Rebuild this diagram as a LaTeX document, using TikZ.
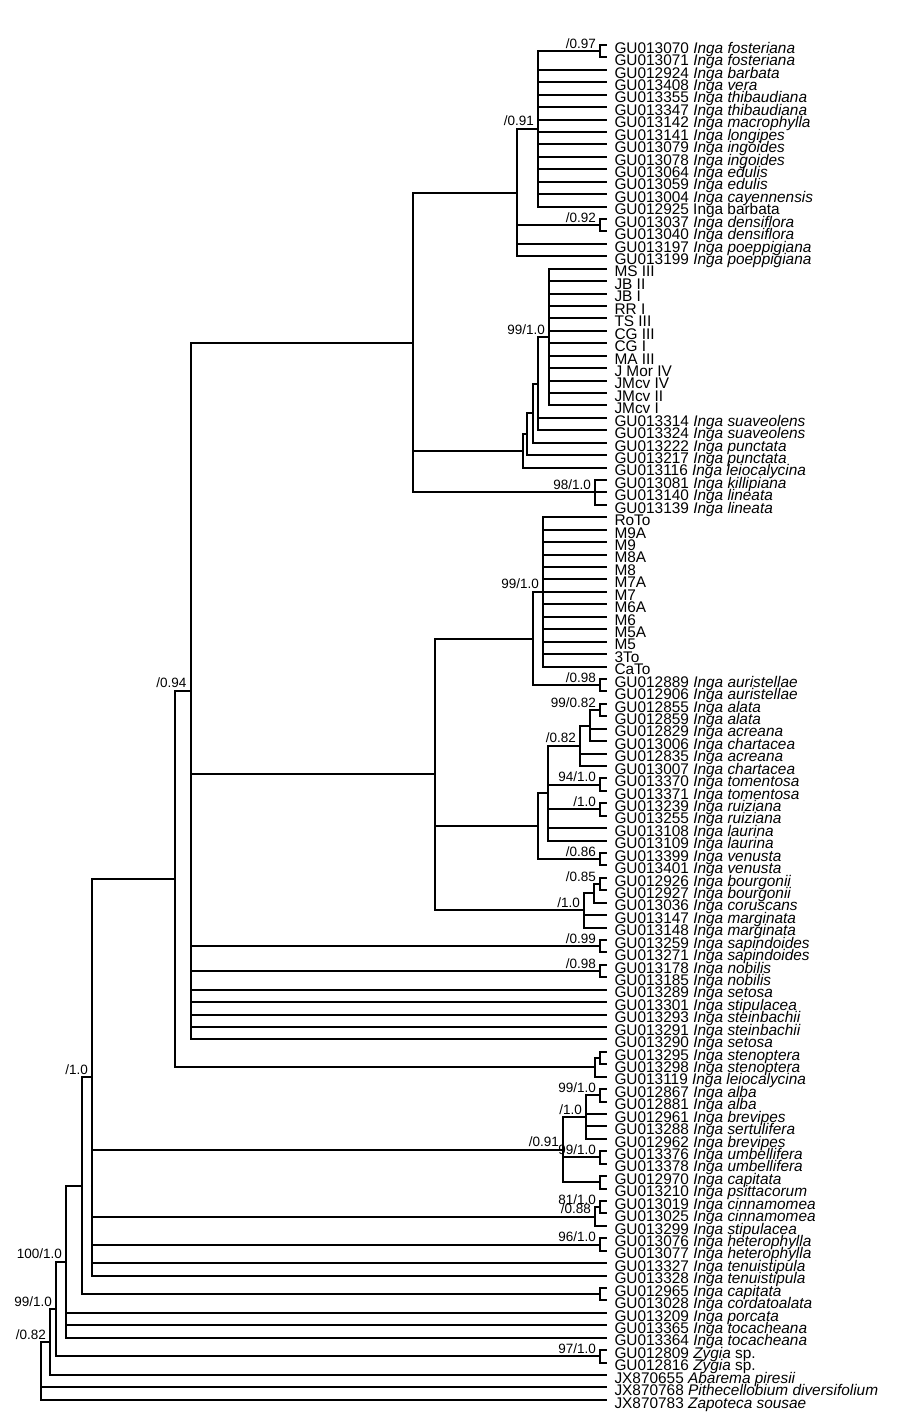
\documentclass[tikz,border=0pt]{standalone}
\usepackage{fontspec}
\setmainfont{Liberation Sans}
\usepackage{tikz}

\newcommand{\taxfont}{\fontsize{15.4}{16}\selectfont}
\newcommand{\suppfont}{\fontsize{13.5}{14}\selectfont}
\newcommand{\inga}[1]{\textit{Inga #1}}

\begin{document}
\begin{tikzpicture}[x=1pt, y=-12.43pt, line width=2pt,
    taxon/.style={anchor=west, inner xsep=7.5pt, inner ysep=0pt, outer sep=0pt,
      text height=16.5pt, text depth=0pt, font=\taxfont},
    supp/.style={anchor=base east, inner sep=0pt, outer sep=0pt,
      xshift=-4pt, yshift=3pt, font=\suppfont}]
  \useasboundingbox (0,-2.62) rectangle (909,111.54);
  % Taxa
  \node[taxon] (l1) at (607,1) {GU013070 \inga{fosteriana}};
  \node[taxon] (l2) at (607,2) {GU013071 \inga{fosteriana}};
  \node[taxon] (l3) at (607,3) {GU012924 \inga{barbata}};
  \node[taxon] (l4) at (607,4) {GU013408 \inga{vera}};
  \node[taxon] (l5) at (607,5) {GU013355 \inga{thibaudiana}};
  \node[taxon] (l6) at (607,6) {GU013347 \inga{thibaudiana}};
  \node[taxon] (l7) at (607,7) {GU013142 \inga{macrophylla}};
  \node[taxon] (l8) at (607,8) {GU013141 \inga{longipes}};
  \node[taxon] (l9) at (607,9) {GU013079 \inga{ingoides}};
  \node[taxon] (l10) at (607,10) {GU013078 \inga{ingoides}};
  \node[taxon] (l11) at (607,11) {GU013064 \inga{edulis}};
  \node[taxon] (l12) at (607,12) {GU013059 \inga{edulis}};
  \node[taxon] (l13) at (607,13) {GU013004 \inga{cayennensis}};
  \node[taxon] (l14) at (607,14) {GU012925 Inga barbata};
  \node[taxon] (l15) at (607,15) {GU013037 \inga{densiflora}};
  \node[taxon] (l16) at (607,16) {GU013040 \inga{densiflora}};
  \node[taxon] (l17) at (607,17) {GU013197 \inga{poeppigiana}};
  \node[taxon] (l18) at (607,18) {GU013199 \inga{poeppigiana}};
  \node[taxon] (l19) at (607,19) {MS III};
  \node[taxon] (l20) at (607,20) {JB II};
  \node[taxon] (l21) at (607,21) {JB I};
  \node[taxon] (l22) at (607,22) {RR I};
  \node[taxon] (l23) at (607,23) {TS III};
  \node[taxon] (l24) at (607,24) {CG III};
  \node[taxon] (l25) at (607,25) {CG I};
  \node[taxon] (l26) at (607,26) {MA III};
  \node[taxon] (l27) at (607,27) {J Mor IV};
  \node[taxon] (l28) at (607,28) {JMcv IV};
  \node[taxon] (l29) at (607,29) {JMcv II};
  \node[taxon] (l30) at (607,30) {JMcv I};
  \node[taxon] (l31) at (607,31) {GU013314 \inga{suaveolens}};
  \node[taxon] (l32) at (607,32) {GU013324 \inga{suaveolens}};
  \node[taxon] (l33) at (607,33) {GU013222 \inga{punctata}};
  \node[taxon] (l34) at (607,34) {GU013217 \inga{punctata}};
  \node[taxon] (l35) at (607,35) {GU013116 \inga{leiocalycina}};
  \node[taxon] (l36) at (607,36) {GU013081 \inga{killipiana}};
  \node[taxon] (l37) at (607,37) {GU013140 \inga{lineata}};
  \node[taxon] (l38) at (607,38) {GU013139 \inga{lineata}};
  \node[taxon] (l39) at (607,39) {RoTo};
  \node[taxon] (l40) at (607,40) {M9A};
  \node[taxon] (l41) at (607,41) {M9};
  \node[taxon] (l42) at (607,42) {M8A};
  \node[taxon] (l43) at (607,43) {M8};
  \node[taxon] (l44) at (607,44) {M7A};
  \node[taxon] (l45) at (607,45) {M7};
  \node[taxon] (l46) at (607,46) {M6A};
  \node[taxon] (l47) at (607,47) {M6};
  \node[taxon] (l48) at (607,48) {M5A};
  \node[taxon] (l49) at (607,49) {M5};
  \node[taxon] (l50) at (607,50) {3To};
  \node[taxon] (l51) at (607,51) {CaTo};
  \node[taxon] (l52) at (607,52) {GU012889 \inga{auristellae}};
  \node[taxon] (l53) at (607,53) {GU012906 \inga{auristellae}};
  \node[taxon] (l54) at (607,54) {GU012855 \inga{alata}};
  \node[taxon] (l55) at (607,55) {GU012859 \inga{alata}};
  \node[taxon] (l56) at (607,56) {GU012829 \inga{acreana}};
  \node[taxon] (l57) at (607,57) {GU013006 \inga{chartacea}};
  \node[taxon] (l58) at (607,58) {GU012835 \inga{acreana}};
  \node[taxon] (l59) at (607,59) {GU013007 \inga{chartacea}};
  \node[taxon] (l60) at (607,60) {GU013370 \inga{tomentosa}};
  \node[taxon] (l61) at (607,61) {GU013371 \inga{tomentosa}};
  \node[taxon] (l62) at (607,62) {GU013239 \inga{ruiziana}};
  \node[taxon] (l63) at (607,63) {GU013255 \inga{ruiziana}};
  \node[taxon] (l64) at (607,64) {GU013108 \inga{laurina}};
  \node[taxon] (l65) at (607,65) {GU013109 \inga{laurina}};
  \node[taxon] (l66) at (607,66) {GU013399 \inga{venusta}};
  \node[taxon] (l67) at (607,67) {GU013401 \inga{venusta}};
  \node[taxon] (l68) at (607,68) {GU012926 \inga{bourgonii}};
  \node[taxon] (l69) at (607,69) {GU012927 \inga{bourgonii}};
  \node[taxon] (l70) at (607,70) {GU013036 \inga{coruscans}};
  \node[taxon] (l71) at (607,71) {GU013147 \inga{marginata}};
  \node[taxon] (l72) at (607,72) {GU013148 \inga{marginata}};
  \node[taxon] (l73) at (607,73) {GU013259 \inga{sapindoides}};
  \node[taxon] (l74) at (607,74) {GU013271 \inga{sapindoides}};
  \node[taxon] (l75) at (607,75) {GU013178 \inga{nobilis}};
  \node[taxon] (l76) at (607,76) {GU013185 \inga{nobilis}};
  \node[taxon] (l77) at (607,77) {GU013289 \inga{setosa}};
  \node[taxon] (l78) at (607,78) {GU013301 \inga{stipulacea}};
  \node[taxon] (l79) at (607,79) {GU013293 \inga{steinbachii}};
  \node[taxon] (l80) at (607,80) {GU013291 \inga{steinbachii}};
  \node[taxon] (l81) at (607,81) {GU013290 \inga{setosa}};
  \node[taxon] (l82) at (607,82) {GU013295 \inga{stenoptera}};
  \node[taxon] (l83) at (607,83) {GU013298 \inga{stenoptera}};
  \node[taxon] (l84) at (607,84) {GU013119 \inga{leiocalycina}};
  \node[taxon] (l85) at (607,85) {GU012867 \inga{alba}};
  \node[taxon] (l86) at (607,86) {GU012881 \inga{alba}};
  \node[taxon] (l87) at (607,87) {GU012961 \inga{brevipes}};
  \node[taxon] (l88) at (607,88) {GU013288 \inga{sertulifera}};
  \node[taxon] (l89) at (607,89) {GU012962 \inga{brevipes}};
  \node[taxon] (l90) at (607,90) {GU013376 \inga{umbellifera}};
  \node[taxon] (l91) at (607,91) {GU013378 \inga{umbellifera}};
  \node[taxon] (l92) at (607,92) {GU012970 \inga{capitata}};
  \node[taxon] (l93) at (607,93) {GU013210 \inga{psittacorum}};
  \node[taxon] (l94) at (607,94) {GU013019 \inga{cinnamomea}};
  \node[taxon] (l95) at (607,95) {GU013025 \inga{cinnamomea}};
  \node[taxon] (l96) at (607,96) {GU013299 \inga{stipulacea}};
  \node[taxon] (l97) at (607,97) {GU013076 \inga{heterophylla}};
  \node[taxon] (l98) at (607,98) {GU013077 \inga{heterophylla}};
  \node[taxon] (l99) at (607,99) {GU013327 \inga{tenuistipula}};
  \node[taxon] (l100) at (607,100) {GU013328 \inga{tenuistipula}};
  \node[taxon] (l101) at (607,101) {GU012965 \inga{capitata}};
  \node[taxon] (l102) at (607,102) {GU013028 \inga{cordatoalata}};
  \node[taxon] (l103) at (607,103) {GU013209 \inga{porcata}};
  \node[taxon] (l104) at (607,104) {GU013365 \inga{tocacheana}};
  \node[taxon] (l105) at (607,105) {GU013364 \inga{tocacheana}};
  \node[taxon] (l106) at (607,106) {GU012809 \textit{Zygia} sp.};
  \node[taxon] (l107) at (607,107) {GU012816 \textit{Zygia} sp.};
  \node[taxon] (l108) at (607,108) {JX870655 \textit{Abarema piresii}};
  \node[taxon] (l109) at (607,109) {JX870768 \textit{Pithecellobium diversifolium}};
  \node[taxon] (l110) at (607,110) {JX870783 \textit{Zapoteca sousae}};

  % Internal nodes
  \coordinate (pfost) at (600,1.5);
  \coordinate (cvera) at (538,7.75);
  \coordinate (pdens) at (600,15.5);
  \coordinate (cedulis) at (517,12.875);
  \coordinate (cms) at (549,24.5);
  \coordinate (csuav) at (538,28.25);
  \coordinate (cpunc2) at (533,30.625);
  \coordinate (cpunc1) at (527,32.3125);
  \coordinate (cleio) at (523,33.65625);
  \coordinate (ckill) at (595,37);
  \coordinate (ch) at (413,24.9375);
  \coordinate (cto) at (543,45);
  \coordinate (paur) at (600,52.5);
  \coordinate (cm) at (533,48.75);
  \coordinate (palat) at (600,54.5);
  \coordinate (cacre) at (590,55.75);
  \coordinate (ccha) at (580,57.375);
  \coordinate (ptom) at (600,60.5);
  \coordinate (pruiz) at (600,62.5);
  \coordinate (claur) at (548,61.1875);
  \coordinate (pven) at (600,66.5);
  \coordinate (cj) at (538,63.84375);
  \coordinate (pbour) at (600,68.5);
  \coordinate (ccor) at (594,69.25);
  \coordinate (cmarg) at (584,70.625);
  \coordinate (ci) at (435,59.6875);
  \coordinate (psap) at (600,73.5);
  \coordinate (pnob) at (600,75.5);
  \coordinate (cg) at (190.5,52.96875);
  \coordinate (psten) at (600,82.5);
  \coordinate (cleio2) at (595,83.25);
  \coordinate (cf) at (175,68.109);
  \coordinate (palba) at (600,85.5);
  \coordinate (cbrev) at (586,87.25);
  \coordinate (pumb) at (600,90.5);
  \coordinate (pcap) at (600,92.5);
  \coordinate (cumb) at (563,89.875);
  \coordinate (pcinn) at (600,94.5);
  \coordinate (cstip) at (595,95.25);
  \coordinate (phet) at (600,97.5);
  \coordinate (ce) at (92,84.05);
  \coordinate (pcord) at (600,101.5);
  \coordinate (cd) at (81.5,92.78);
  \coordinate (cc) at (66,98.89);
  \coordinate (pzyg) at (600,106.5);
  \coordinate (cb) at (56,102.69);
  \coordinate (ca) at (50,105.35);
  \coordinate (croot) at (41,107.67);

  % Draw the branches, root first
  \draw (croot) |- (ca) (croot) |- (l109.west) (croot) |- (l110.west);
  \draw (ca) |- (cb) (ca) |- (l108.west);
  \draw (cb) |- (cc) (cb) |- (pzyg);
  \draw (pzyg) |- (l106.west) (pzyg) |- (l107.west);
  \draw (cc) |- (cd) (cc) |- (l103.west) (cc) |- (l104.west) (cc) |- (l105.west);
  \draw (cd) |- (ce) (cd) |- (pcord);
  \draw (pcord) |- (l101.west) (pcord) |- (l102.west);
  \draw (ce) |- (cf) (ce) |- (cumb) (ce) |- (cstip) (ce) |- (phet)
        (ce) |- (l99.west) (ce) |- (l100.west);
  \draw (phet) |- (l97.west) (phet) |- (l98.west);
  \draw (cstip) |- (pcinn) (cstip) |- (l96.west);
  \draw (pcinn) |- (l94.west) (pcinn) |- (l95.west);
  \draw (cumb) |- (cbrev) (cumb) |- (pumb) (cumb) |- (pcap);
  \draw (pcap) |- (l92.west) (pcap) |- (l93.west);
  \draw (pumb) |- (l90.west) (pumb) |- (l91.west);
  \draw (cbrev) |- (palba) (cbrev) |- (l87.west) (cbrev) |- (l88.west) (cbrev) |- (l89.west);
  \draw (palba) |- (l85.west) (palba) |- (l86.west);
  \draw (cf) |- (cg) (cf) |- (cleio2);
  \draw (cleio2) |- (psten) (cleio2) |- (l84.west);
  \draw (psten) |- (l82.west) (psten) |- (l83.west);
  \draw (cg) |- (ch) (cg) |- (ci) (cg) |- (psap) (cg) |- (pnob)
        (cg) |- (l77.west) (cg) |- (l78.west) (cg) |- (l79.west)
        (cg) |- (l80.west) (cg) |- (l81.west);
  \draw (psap) |- (l73.west) (psap) |- (l74.west);
  \draw (pnob) |- (l75.west) (pnob) |- (l76.west);
  \draw (ci) |- (cm) (ci) |- (cj) (ci) |- (cmarg);
  \draw (cmarg) |- (ccor) (cmarg) |- (l71.west) (cmarg) |- (l72.west);
  \draw (ccor) |- (pbour) (ccor) |- (l70.west);
  \draw (pbour) |- (l68.west) (pbour) |- (l69.west);
  \draw (cj) |- (claur) (cj) |- (pven);
  \draw (pven) |- (l66.west) (pven) |- (l67.west);
  \draw (claur) |- (ccha) (claur) |- (ptom) (claur) |- (pruiz)
        (claur) |- (l64.west) (claur) |- (l65.west);
  \draw (ptom) |- (l60.west) (ptom) |- (l61.west);
  \draw (pruiz) |- (l62.west) (pruiz) |- (l63.west);
  \draw (ccha) |- (cacre) (ccha) |- (l58.west) (ccha) |- (l59.west);
  \draw (cacre) |- (palat) (cacre) |- (l56.west) (cacre) |- (l57.west);
  \draw (palat) |- (l54.west) (palat) |- (l55.west);
  \draw (cm) |- (cto) (cm) |- (paur);
  \draw (paur) |- (l52.west) (paur) |- (l53.west);
  \draw (cto) |- (l39.west) (cto) |- (l40.west) (cto) |- (l41.west) (cto) |- (l42.west)
        (cto) |- (l43.west) (cto) |- (l44.west) (cto) |- (l45.west) (cto) |- (l46.west)
        (cto) |- (l47.west) (cto) |- (l48.west) (cto) |- (l49.west) (cto) |- (l50.west)
        (cto) |- (l51.west);
  \draw (ch) |- (cedulis) (ch) |- (cleio) (ch) |- (ckill);
  \draw (ckill) |- (l36.west) (ckill) |- (l37.west) (ckill) |- (l38.west);
  \draw (cleio) |- (cpunc1) (cleio) |- (l35.west);
  \draw (cpunc1) |- (cpunc2) (cpunc1) |- (l34.west);
  \draw (cpunc2) |- (csuav) (cpunc2) |- (l33.west);
  \draw (csuav) |- (cms) (csuav) |- (l31.west) (csuav) |- (l32.west);
  \draw (cms) |- (l19.west) (cms) |- (l20.west) (cms) |- (l21.west) (cms) |- (l22.west)
        (cms) |- (l23.west) (cms) |- (l24.west) (cms) |- (l25.west) (cms) |- (l26.west)
        (cms) |- (l27.west) (cms) |- (l28.west) (cms) |- (l29.west) (cms) |- (l30.west);
  \draw (cedulis) |- (cvera) (cedulis) |- (pdens) (cedulis) |- (l17.west) (cedulis) |- (l18.west);
  \draw (pdens) |- (l15.west) (pdens) |- (l16.west);
  \draw (cvera) |- (pfost) (cvera) |- (l3.west) (cvera) |- (l4.west) (cvera) |- (l5.west)
        (cvera) |- (l6.west) (cvera) |- (l7.west) (cvera) |- (l8.west) (cvera) |- (l9.west)
        (cvera) |- (l10.west) (cvera) |- (l11.west) (cvera) |- (l12.west) (cvera) |- (l13.west)
        (cvera) |- (l14.west);
  \draw (pfost) |- (l1.west) (pfost) |- (l2.west);

  % Support values (bootstrap/posterior)
  \node[supp] (s1) at (pfost) {/0.97};
  \node[supp] (s2) at (cvera) {/0.91};
  \node[supp] (s3) at (pdens) {/0.92};
  \node[supp] (s4) at (cms) {99/1.0};
  \node[supp] (s5) at (ckill) {98/1.0};
  \node[supp] (s6) at (cto) {99/1.0};
  \node[supp] (s7) at (paur) {/0.98};
  \node[supp] (s8) at (palat) {99/0.82};
  \node[supp] (s9) at (ccha) {/0.82};
  \node[supp] (s10) at (ptom) {94/1.0};
  \node[supp] (s11) at (pruiz) {/1.0};
  \node[supp] (s12) at (pven) {/0.86};
  \node[supp] (s13) at (pbour) {/0.85};
  \node[supp] (s14) at (cmarg) {/1.0};
  \node[supp] (s15) at (psap) {/0.99};
  \node[supp] (s16) at (pnob) {/0.98};
  \node[supp] (s17) at (cg) {/0.94};
  \node[supp] (s18) at (palba) {99/1.0};
  \node[supp] (s19) at (cbrev) {/1.0};
  \node[supp] (s20) at (cumb) {/0.91};
  \node[supp] (s21) at (pumb) {99/1.0};
  \node[supp] (s22) at (pcinn) {81/1.0};
  \node[supp] (s23) at (cstip) {/0.88};
  \node[supp] (s24) at (phet) {96/1.0};
  \node[supp] (s25) at (ce) {/1.0};
  \node[supp] (s26) at (pzyg) {97/1.0};
  \node[supp] (s27) at (cc) {100/1.0};
  \node[supp] (s28) at (cb) {99/1.0};
  \node[supp] (s29) at (ca) {/0.82};
\end{tikzpicture}
\end{document}
